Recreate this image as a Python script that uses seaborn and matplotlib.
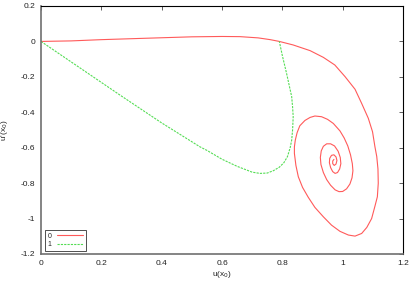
import numpy as np
import pandas as pd
import matplotlib
matplotlib.use("Agg")
import matplotlib.pyplot as plt
import seaborn as sns

# red curve (series "0")
red_u = [0.0, 0.1, 0.2, 0.33, 0.5, 0.6, 0.66, 0.72, 0.76, 0.79,
         0.836, 0.892, 0.936, 0.974, 1.008, 1.041, 1.063, 1.085, 1.099, 1.107, 1.113, 1.117,
         1.118, 1.115, 1.107, 1.096, 1.08, 1.063, 1.041, 1.019, 0.991, 0.963, 0.936, 0.908,
         0.886, 0.867, 0.853, 0.845, 0.840, 0.840, 0.843, 0.849, 0.858, 0.875, 0.892, 0.908,
         0.930, 0.950, 0.969, 0.991, 1.005, 1.017, 1.026, 1.032, 1.034, 1.031, 1.024, 1.013,
         1.0, 0.988, 0.975, 0.960, 0.947, 0.936, 0.928, 0.926, 0.929, 0.936, 0.947, 0.960,
         0.973, 0.985, 0.992, 0.994, 0.990, 0.983, 0.975, 0.967, 0.960, 0.956, 0.957, 0.963,
         0.971, 0.978, 0.981, 0.978, 0.972, 0.967, 0.967, 0.971]
red_v = [0.0, 0.003, 0.01, 0.017, 0.026, 0.028, 0.027, 0.02, 0.01, 0.0,
         -0.020, -0.052, -0.090, -0.133, -0.199, -0.27, -0.350, -0.434, -0.51, -0.595, -0.65, -0.72,
         -0.80, -0.877, -0.93, -1.0, -1.05, -1.084, -1.099, -1.093, -1.072, -1.037, -0.99, -0.937,
         -0.88, -0.824, -0.764, -0.70, -0.632, -0.595, -0.557, -0.515, -0.476, -0.446, -0.429, -0.421,
         -0.425, -0.440, -0.463, -0.505, -0.545, -0.59, -0.64, -0.69, -0.73, -0.77, -0.805, -0.832,
         -0.847, -0.848, -0.838, -0.812, -0.78, -0.74, -0.695, -0.655, -0.618, -0.592, -0.578, -0.578,
         -0.590, -0.620, -0.655, -0.69, -0.72, -0.740, -0.745, -0.735, -0.712, -0.685, -0.660, -0.643,
         -0.640, -0.652, -0.672, -0.692, -0.700, -0.690, -0.675, -0.666]

# green curve (series "1")
green_u = [0.0, 0.262, 0.40, 0.527, 0.55, 0.60, 0.65, 0.70, 0.726, 0.75, 0.77, 0.79, 0.805,
           0.817, 0.826, 0.831, 0.834, 0.836, 0.834, 0.831, 0.823, 0.814, 0.80, 0.79]
green_v = [0.0, -0.303, -0.46, -0.595, -0.615, -0.665, -0.705, -0.738, -0.745, -0.743, -0.73,
           -0.71, -0.685, -0.65, -0.60, -0.557, -0.50, -0.425, -0.37, -0.312, -0.25, -0.18, -0.08, 0.0]

xticks = [0, 0.2, 0.4, 0.6, 0.8, 1, 1.2]
xticklabels = ["0", "0.2", "0.4", "0.6", "0.8", "1", "1.2"]
yticks = [-1.2, -1.0, -0.8, -0.6, -0.4, -0.2, 0, 0.2]
yticklabels = ["-1.2", "-1", "-0.8", "-0.6", "-0.4", "-0.2", "0", "0.2"]

sns.set_style("white")
plt.rcParams['font.family'] = ['Liberation Sans', 'DejaVu Sans']

fig = plt.figure(figsize=(4.15, 2.81), dpi=100)
ax = fig.add_axes([41/415, 1-254/281, 362/415, 248/281])

df_r = pd.DataFrame({"u": red_u, "v": red_v})
df_g = pd.DataFrame({"u": green_u, "v": green_v})
sns.lineplot(data=df_r, x="u", y="v", sort=False, estimator=None, ax=ax,
             color="#ff5a5a", lw=0.8, label="0")
sns.lineplot(data=df_g, x="u", y="v", sort=False, estimator=None, ax=ax,
             color="#55dd55", lw=0.8, linestyle=(0, (2, 1)), label="1")

ax.set_xlim(0, 1.2)
ax.set_ylim(-1.2, 0.2)
ax.set_xticks(xticks)
ax.set_xticklabels(xticklabels)
ax.set_yticks(yticks)
ax.set_yticklabels(yticklabels)
ax.tick_params(direction="in", length=3, width=0.6, labelsize=6, top=True, right=True,
               colors="#444444", labelcolor="#222222")
ax.tick_params(axis="x", pad=4)
ax.tick_params(axis="y", pad=4)
ax.set_xlabel("u(x$_0$)", fontsize=6, labelpad=2)
ax.set_ylabel("u'(x$_0$)", fontsize=6, labelpad=8)
for s in ["left", "bottom"]:
    ax.spines[s].set_color("#707070")
    ax.spines[s].set_linewidth(1.2)
for s in ["top", "right"]:
    ax.spines[s].set_color("#000000")
    ax.spines[s].set_linewidth(0.8)

leg = ax.legend(loc="lower left", bbox_to_anchor=(0.011, 0.014), fontsize=5, markerfirst=False,
                frameon=True, fancybox=False, handlelength=3.8, borderpad=0.35,
                labelspacing=0.2, handletextpad=0.8, borderaxespad=0)
leg.get_frame().set_edgecolor("black")
leg.get_frame().set_linewidth(0.6)

fig.savefig("out.png", dpi=100)
